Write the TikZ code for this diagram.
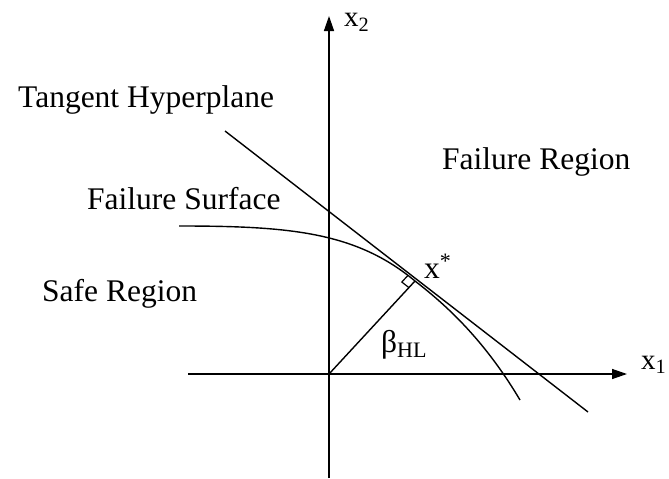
\documentclass[tikz,border=0pt]{standalone}
\usepackage{fontspec}
\setmainfont{Liberation Serif}
\usetikzlibrary{calc,arrows.meta}
\begin{document}
\begin{tikzpicture}[x=1pt,y=-1pt,
  axis/.style={line width=1.4pt,-{Triangle[length=15pt,width=10pt]}},
  curveline/.style={line width=1.4pt},
  lbl/.style={font=\fontsize{31.5}{36}\selectfont,inner sep=0pt,anchor=base west},
  axlbl/.style={font=\fontsize{29}{34}\selectfont,inner sep=0pt,anchor=base west}]
\useasboundingbox (0,0) rectangle (669,479);
% axes
\coordinate (O) at (329,374);
\coordinate (ybot) at (329,478);
\coordinate (ytop) at (329,16);
\coordinate (xleft) at (188,374);
\coordinate (xright) at (627,374);
\draw[axis] (ybot) -- (ytop);
\draw[axis] (xleft) -- (xright);
% key points
\coordinate (xs) at (415,281);
\coordinate (tA) at (225,131);
\coordinate (tB) at (588,412);
\coordinate (fA) at (179,226);
\coordinate (fB) at (520,400);
% tangent hyperplane
\draw[curveline] (tA) -- (tB);
% failure surface
\draw[curveline] (fA) .. controls (290,226) and (356,232) .. (xs)
  .. controls (442,302) and (482,336) .. (fB);
% beta line
\draw[curveline] (O) -- (xs);
% right angle marker
\coordinate (m1) at ($(xs)!9pt!(O)$);
\coordinate (m3) at ($(xs)!9pt!(tA)$);
\coordinate (m2) at ($(m1)+(m3)-(xs)$);
\draw[line width=1.2pt] (m1) -- (m2) -- (m3);
% labels
\node[axlbl] (lx2) at (344,27) {x\textsubscript{2}};
\node[axlbl] (lx1) at (641,369) {x\textsubscript{1}};
\node[lbl] (ltan) at (18,107) {Tangent Hyperplane};
\node[lbl] (lfr) at (442,169) {Failure Region};
\node[lbl] (lfs) at (87,209) {Failure Surface};
\node[lbl] (lsr) at (42,301) {Safe Region};
\node[lbl] (lxs) at (424,278) {x\textsuperscript{*}};
\node[lbl] (lb) at (381,352) {β\textsubscript{HL}};
\end{tikzpicture}
\end{document}
